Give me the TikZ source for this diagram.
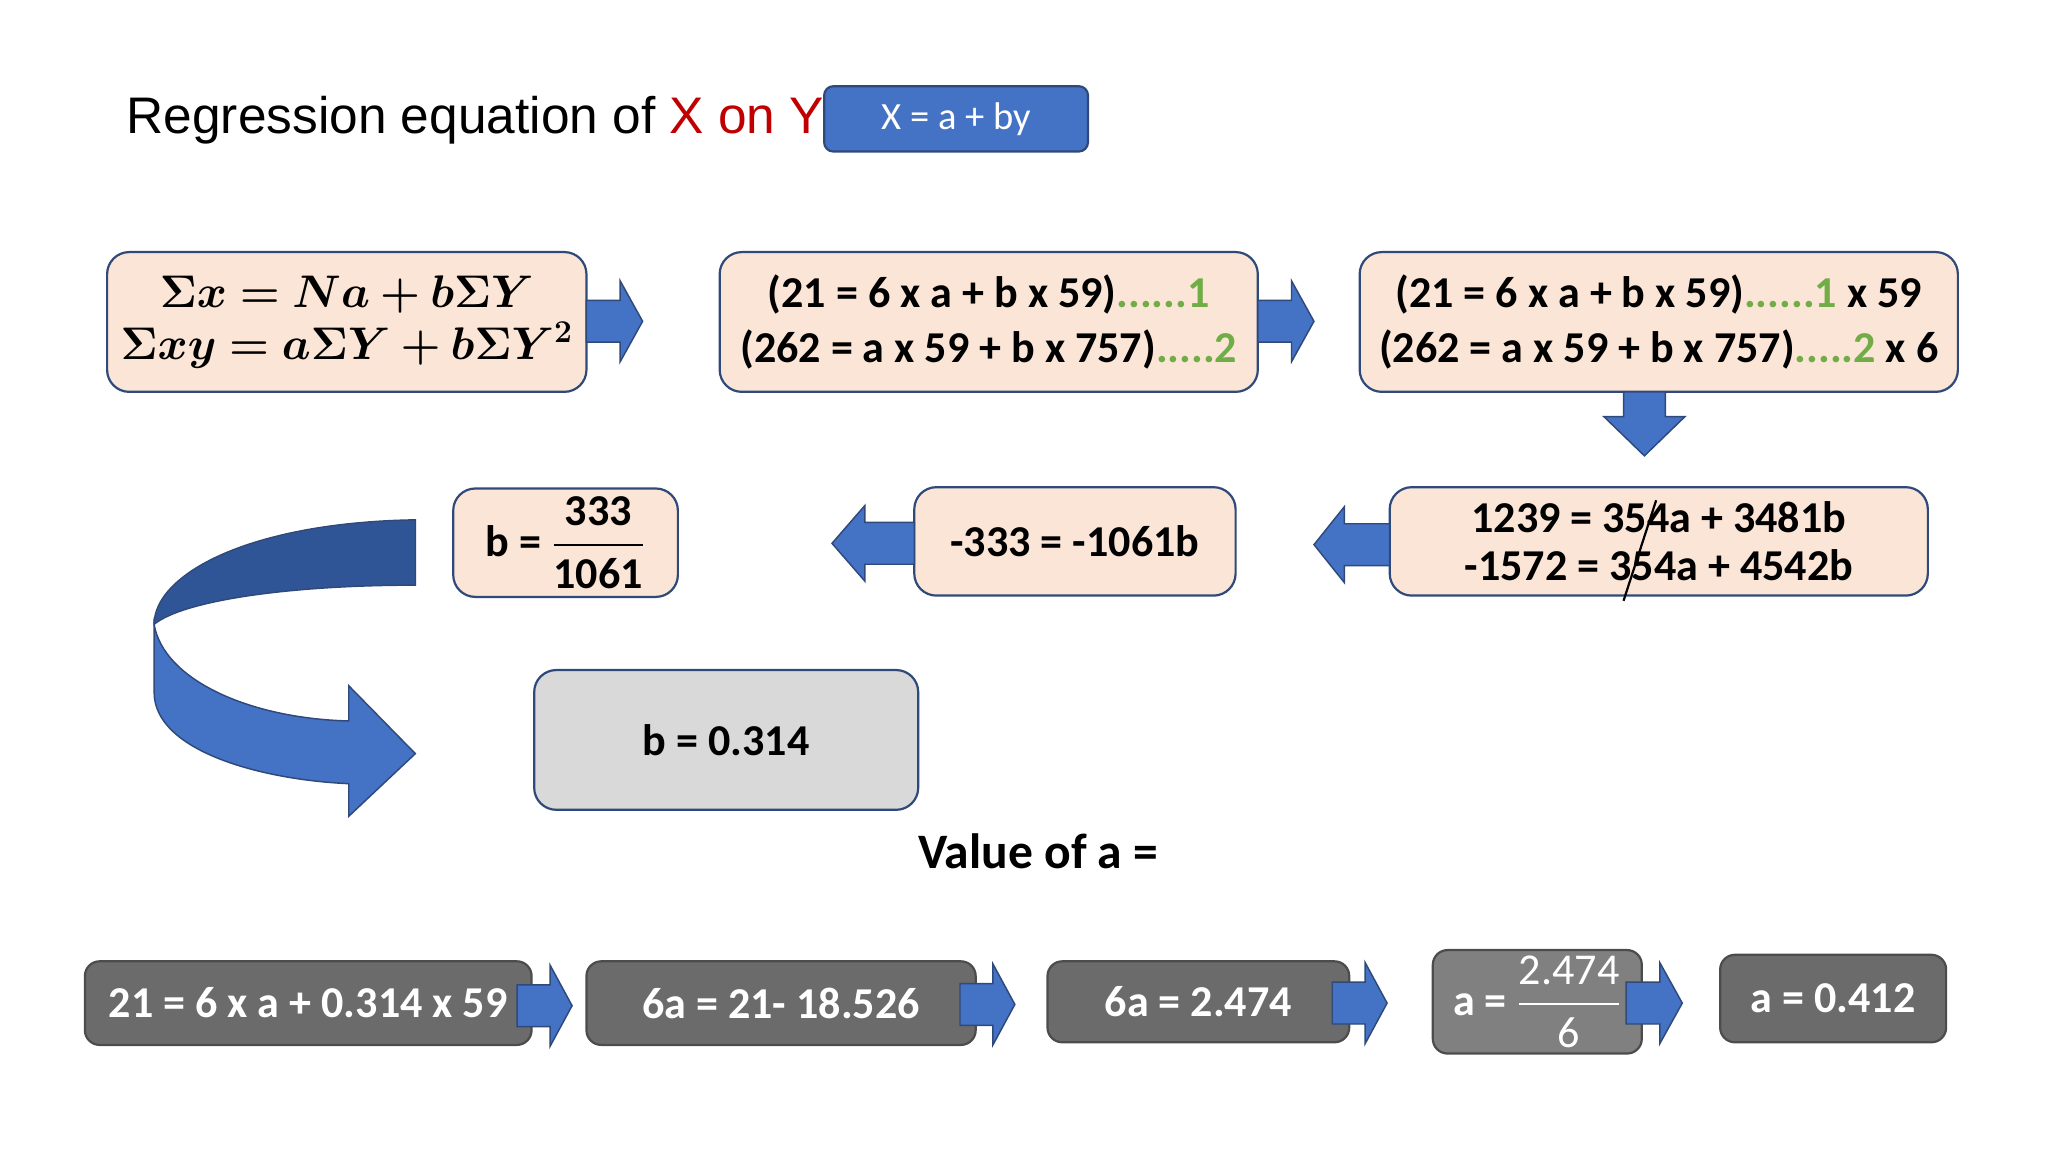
\documentclass[tikz,border=0pt]{standalone}
\usepackage{amsmath,bm}
\usepackage{fontspec}
\setmainfont{Carlito}
\newfontfamily\arialf{Liberation Sans}
\definecolor{peach}{HTML}{FBE5D6}
\definecolor{edgeblue}{HTML}{2F4A7A}
\definecolor{myblue}{HTML}{4472C4}
\definecolor{darkblue}{HTML}{2F5597}
\definecolor{mygreen}{HTML}{70AD47}
\definecolor{dgray}{HTML}{6B6B6B}
\definecolor{lgray}{HTML}{D9D9D9}
\definecolor{titlered}{HTML}{C00000}
\tikzset{
 pbox/.style={draw=edgeblue,line width=1.2pt,rounded corners=12pt,fill=peach,font=\fontsize{24}{30}\selectfont\bfseries,align=center},
 gbox/.style={draw=black!70,line width=1.2pt,rounded corners=8pt,fill=dgray,text=white,font=\fontsize{24}{30}\selectfont\bfseries},
 barrow/.style={fill=myblue,draw=edgeblue,line width=0.8pt},
}
\newcommand{\rarr}[3]{% x0 x1 yc
 \filldraw[barrow] (#1,#3-16) -- ({#1+0.6*(#2-#1)},#3-16) -- ({#1+0.6*(#2-#1)},#3-31) -- (#2,#3) -- ({#1+0.6*(#2-#1)},#3+31) -- ({#1+0.6*(#2-#1)},#3+16) -- (#1,#3+16) -- cycle;}
\newcommand{\larr}[3]{% x0(tip) x1 yc
 \filldraw[barrow] (#2,#3-16) -- ({#2-0.6*(#2-#1)},#3-16) -- ({#2-0.6*(#2-#1)},#3-29) -- (#1,#3) -- ({#2-0.6*(#2-#1)},#3+29) -- ({#2-0.6*(#2-#1)},#3+16) -- (#2,#3+16) -- cycle;}
\begin{document}
\begin{tikzpicture}[x=0.025cm,y=-0.025cm]
\useasboundingbox (0,0) rectangle (1568,882);
% title
\node[anchor=west,font=\arialf\fontsize{28}{32}\selectfont] (title) at (92,92) {Regression equation of \textcolor{titlered}{X on Y}:};
\node[draw=edgeblue,line width=1.2pt,rounded corners=5pt,fill=myblue,text=white,minimum width=202*0.025cm,minimum height=50*0.025cm,font=\fontsize{21}{24}\selectfont] (eq) at (732,91) {X = a + by};
% row 1
\node[pbox,minimum width=367*0.025cm,minimum height=107*0.025cm] (b1) at (265.5,246.5) {$\bm{\Sigma x = Na + b\Sigma Y}$\\[-2pt]$\bm{\Sigma xy = a\Sigma Y + b\Sigma Y^2}$};
\node[pbox,minimum width=412*0.025cm,minimum height=107*0.025cm] (b2) at (757,246.5) {(21 = 6 x a + b x 59)\textcolor{mygreen}{......1}\\(262 = a x 59 + b x 757)\textcolor{mygreen}{.....2}};
\node[pbox,minimum width=458*0.025cm,minimum height=107*0.025cm] (b3) at (1270,246.5) {(21 = 6 x a + b x 59)\textcolor{mygreen}{......1} x 59\\(262 = a x 59 + b x 757)\textcolor{mygreen}{.....2} x 6};
\rarr{449}{492}{246}
\rarr{963}{1006}{246}
\filldraw[barrow] (1243,300) -- (1275,300) -- (1275,319) -- (1290,319) -- (1259,349) -- (1228,319) -- (1243,319) -- cycle;
% row 2
\node[pbox,minimum width=412*0.025cm,minimum height=83*0.025cm] (b4) at (1270,414.5) {1239 = 354a + 3481b\\[-4pt]-1572 = 354a + 4542b};
\draw[line width=1.2pt] (1268,383) -- (1243,460);
\node[pbox,minimum width=246*0.025cm,minimum height=83*0.025cm] (b5) at (823,414.5) {-333 = -1061b};
\node[pbox,minimum width=172*0.025cm,minimum height=83*0.025cm] (b6) at (433,415.5) {b = $\dfrac{\mathbf{333}}{\mathbf{1061}}$};
\larr{1006}{1064}{417}
\larr{637}{700}{416}
% curved arrow
\filldraw[fill=myblue,draw=edgeblue,line width=0.8pt] (118,478) -- (118,530) .. controls (118,575) and (200,597) .. (267,600) -- (267,625) -- (318,577) -- (267,525) -- (267,552) .. controls (190,550) and (125,520) .. (118,478) -- cycle;
\filldraw[fill=darkblue,draw=edgeblue,line width=0.8pt] (318,398) .. controls (190,400) and (118,440) .. (118,478) .. controls (140,460) and (220,448) .. (318,448) -- cycle;
% b value
\node[draw=edgeblue,line width=1.2pt,rounded corners=12pt,fill=lgray,minimum width=294*0.025cm,minimum height=107*0.025cm,font=\fontsize{24}{30}\selectfont\bfseries] (b7) at (556,566.5) {b = 0.314};
\node[font=\fontsize{27}{30}\selectfont\bfseries] (va) at (795,652) {Value of a =};
% bottom row
\node[gbox,minimum width=342*0.025cm,minimum height=64*0.025cm] (c1) at (236,768) {21 = 6 x a + 0.314 x 59};
\node[gbox,minimum width=298*0.025cm,minimum height=64*0.025cm] (c2) at (598,768) {6a = 21- 18.526};
\node[gbox,minimum width=231*0.025cm,minimum height=62*0.025cm] (c3) at (917.5,767) {6a = 2.474};
\node[gbox,fill=black!50,minimum width=160*0.025cm,minimum height=62*0.025cm] (c4) at (1177,767) {a = $\dfrac{\text{\normalfont\rmfamily 2.474}}{\text{\normalfont\rmfamily 6}}$};
\node[gbox,minimum width=173*0.025cm,minimum height=67*0.025cm] (c5) at (1403.5,764.5) {a = 0.412};
\rarr{396}{438}{770}
\rarr{735}{777}{769}
\rarr{1020}{1062}{768}
\rarr{1245}{1288}{768}
\end{tikzpicture}
\end{document}
